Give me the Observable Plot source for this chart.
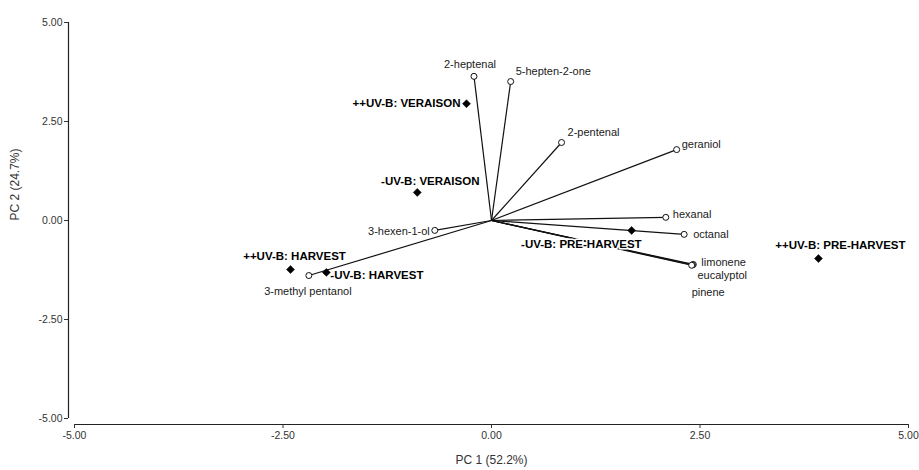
<!DOCTYPE html>
<html>
<head>
<meta charset="utf-8">
<script src="https://cdn.jsdelivr.net/npm/d3@7"></script>
<script src="https://cdn.jsdelivr.net/npm/@observablehq/plot@0.6"></script>
<style>
  html, body { margin: 0; padding: 0; background: #fff; }
  #chart { width: 919px; height: 470px; }
  svg { font-family: "Liberation Sans", Arial, sans-serif; }
</style>
</head>
<body>
<div id="chart"></div>
<script>
// ---- data ----
const loadingNames = ["2-heptenal", "5-hepten-2-one", "2-pentenal", "geraniol", "hexanal", "octanal",
  "limonene", "eucalyptol", "pinene", "3-hexen-1-ol", "3-methyl pentanol"];
const loadingPC1 = [-0.21, 0.23, 0.84, 2.22, 2.09, 2.31, 2.42, 2.41, 2.40, -0.68, -2.19];
const loadingPC2 = [3.64, 3.51, 1.97, 1.79, 0.08, -0.35, -1.11, -1.12, -1.13, -0.25, -1.39];

const scoreNames = ["++UV-B: VERAISON", "-UV-B: VERAISON", "-UV-B: PRE-HARVEST",
  "++UV-B: PRE-HARVEST", "++UV-B: HARVEST", "-UV-B: HARVEST"];
const scorePC1 = [-0.30, -0.89, 1.68, 3.92, -2.41, -1.98];
const scorePC2 = [2.95, 0.71, -0.25, -0.96, -1.24, -1.31];

const axisTicks = [-5, -2.5, 0, 2.5, 5];
const xTitle = "PC 1 (52.2%)";
const yTitle = "PC 2 (24.7%)";

// ---- label placement (layout, not data) ----
const loadingLabelPlace = {
  "2-heptenal": {anchor: "middle", dx: -4, dy: -12},
  "5-hepten-2-one": {anchor: "start", dx: 5, dy: -10},
  "2-pentenal": {anchor: "start", dx: 6, dy: -10},
  "geraniol": {anchor: "start", dx: 5, dy: -5},
  "hexanal": {anchor: "start", dx: 7, dy: -3},
  "octanal": {anchor: "start", dx: 9, dy: 0},
  "limonene": {anchor: "start", dx: 8, dy: -2},
  "eucalyptol": {anchor: "start", dx: 5, dy: 11},
  "pinene": {anchor: "start", dx: 0, dy: 27},
  "3-hexen-1-ol": {anchor: "end", dx: -5, dy: 1},
  "3-methyl pentanol": {anchor: "middle", dx: -1, dy: 16}
};
const scoreLabelPlace = {
  "++UV-B: VERAISON": {anchor: "end", dx: -6, dy: 0},
  "-UV-B: VERAISON": {anchor: "middle", dx: 13, dy: -11},
  "-UV-B: PRE-HARVEST": {anchor: "end", dx: 10, dy: 14},
  "++UV-B: PRE-HARVEST": {anchor: "middle", dx: 22, dy: -13},
  "++UV-B: HARVEST": {anchor: "middle", dx: 4, dy: -13},
  "-UV-B: HARVEST": {anchor: "start", dx: 4, dy: 3}
};

const loadings = loadingNames.map((name, i) => ({name, x: loadingPC1[i], y: loadingPC2[i]}));
const scores = scoreNames.map((name, i) => ({name, x: scorePC1[i], y: scorePC2[i]}));

const fmt = d => d.toFixed(2);

const loadingTexts = loadings.map(d => {
  const p = loadingLabelPlace[d.name];
  return Plot.text([d], {x: "x", y: "y", text: "name", textAnchor: p.anchor, dx: p.dx, dy: p.dy,
    fontSize: 11, fill: "#1a1a1a", stroke: "white", strokeWidth: 3});
});
const scoreTexts = scores.map(d => {
  const p = scoreLabelPlace[d.name];
  return Plot.text([d], {x: "x", y: "y", text: "name", textAnchor: p.anchor, dx: p.dx, dy: p.dy,
    fontSize: 11.5, fontWeight: "bold", fill: "#000", stroke: "white", strokeWidth: 3});
});

const chart = Plot.plot({
  width: 919,
  height: 470,
  marginTop: 22,
  marginBottom: 52,
  marginLeft: 74,
  marginRight: 11,
  style: {fontFamily: "'Liberation Sans', Arial, sans-serif", background: "white"},
  x: {domain: [-5, 5], axis: null},
  y: {domain: [-5, 5], axis: null},
  marks: [
    // axes
    Plot.ruleX([-5], {dx: -6, stroke: "#222", strokeWidth: 1.2}),
    Plot.axisY({ticks: axisTicks, tickFormat: fmt, tickSize: 4, tickPadding: 2, dx: -6,
      fontSize: 10.5, color: "#333", label: null}),
    Plot.ruleY([-5], {dy: 6, stroke: "#222", strokeWidth: 1.2}),
    Plot.axisX({ticks: axisTicks, tickFormat: fmt, tickSize: 4, tickPadding: 3, dy: 6,
      fontSize: 10.5, color: "#333", label: null}),
    Plot.text([xTitle], {frameAnchor: "bottom", dy: 45, fontSize: 12, fill: "#333"}),
    Plot.text([yTitle], {frameAnchor: "left", rotate: -90, dx: -59, dy: 0, fontSize: 12, fill: "#333"}),
    // loading vectors
    Plot.link(loadings, {x1: () => 0, y1: () => 0, x2: "x", y2: "y", stroke: "#111", strokeWidth: 1.2}),
    ...loadingTexts,
    ...scoreTexts,
    Plot.dot(loadings, {x: "x", y: "y", r: 3, fill: "white", stroke: "#111", strokeWidth: 1}),
    Plot.dot(scores, {x: "x", y: "y", symbol: "diamond2", r: 3.6, fill: "#000", stroke: "#000", strokeWidth: 0.5})
  ]
});
document.getElementById("chart").appendChild(chart);
</script>
</body>
</html>
